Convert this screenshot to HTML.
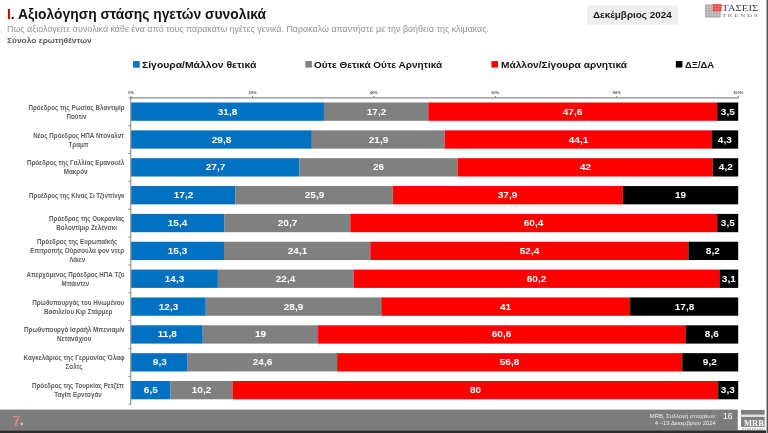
<!DOCTYPE html>
<html lang="el"><head><meta charset="utf-8"><title>Αξιολόγηση στάσης ηγετών συνολικά</title>
<style>
html,body{margin:0;padding:0;background:#fff;font-family:"Liberation Sans",sans-serif}
body{width:768px;height:433px;position:relative;overflow:hidden;font-family:"Liberation Sans",sans-serif}
.t{position:absolute;white-space:nowrap;line-height:1;transform-origin:0 0;display:inline-block}
.r{position:absolute;white-space:nowrap;line-height:1;transform-origin:100% 0;display:inline-block;text-align:right}
.b{position:absolute}
.v{position:absolute;color:#fff;font-weight:700;text-align:center;white-space:nowrap;line-height:1}
.v span{display:inline-block}
.l{position:absolute;white-space:nowrap;text-align:center;font-weight:700;color:#5c5c5c;transform-origin:100% 50%}
.k{position:absolute;font-weight:700;color:#555;line-height:1;text-align:center;white-space:nowrap}
</style></head><body><div style="position:absolute;left:0;top:0;width:768px;height:433px;transform:translateZ(0)">
<svg class="b" style="left:705px;top:3.5px" width="18" height="14" viewBox="0 0 18 14"><rect x="0" y="0.5" width="15.7" height="13" fill="#a8a8a8"/><g stroke="#d8d8d8" stroke-width="0.5"><path d="M0 3.1h15.7M0 5.7h15.7M0 8.3h15.7M0 10.9h15.7M2.6 .5v13M5.2 .5v13M7.8 .5v13M10.4 .5v13M13 .5v13"/></g><rect x="7.8" y="0.2" width="8.7" height="7" fill="#ee3b3b"/><g stroke="#f7a0a0" stroke-width="0.5"><path d="M7.8 2.5h8.7M7.8 4.9h8.7M10.7 .2v7M13.6 .2v7"/></g></svg>
<svg class="b" style="left:0;top:0" width="768" height="433" viewBox="0 0 768 433"><rect x="0" y="409.6" width="737.8" height="20.7" fill="#7d7d7d"/><rect x="0" y="430.3" width="768" height="2.7" fill="#2e2e2e"/><rect x="766" y="0" width="1" height="433" fill="#b4b4b4"/><rect x="767" y="0" width="1" height="433" fill="#505256"/><rect x="741" y="409.9" width="23.6" height="4.9" fill="#808080"/><rect x="741" y="414.8" width="23.6" height="2.1" fill="#e6e6e6"/><rect x="741" y="416.9" width="23.6" height="10.0" fill="#808080"/><rect x="742.2" y="428.3" width="1.5" height="1.4" fill="#a0a0a0"/><rect x="744.6500000000001" y="428.3" width="1.5" height="1.4" fill="#a0a0a0"/><rect x="747.1" y="428.3" width="1.5" height="1.4" fill="#a0a0a0"/><rect x="749.5500000000001" y="428.3" width="1.5" height="1.4" fill="#a0a0a0"/><rect x="752.0" y="428.3" width="1.5" height="1.4" fill="#a0a0a0"/><rect x="754.45" y="428.3" width="1.5" height="1.4" fill="#a0a0a0"/><rect x="756.9000000000001" y="428.3" width="1.5" height="1.4" fill="#a0a0a0"/><rect x="759.35" y="428.3" width="1.5" height="1.4" fill="#a0a0a0"/><rect x="761.8000000000001" y="428.3" width="1.5" height="1.4" fill="#a0a0a0"/><rect x="587.3" y="5.3" width="90.6" height="19.3" fill="#efefef"/><rect x="133.1" y="61.1" width="6.6" height="6.5" fill="#0070c0"/><rect x="305.3" y="61.1" width="6.6" height="6.5" fill="#808080"/><rect x="491.4" y="61.1" width="6.6" height="6.5" fill="#ff0000"/><rect x="675.8" y="61.1" width="6.6" height="6.5" fill="#000000"/><rect x="131.10" y="102.50" width="192.86" height="18.3" fill="#0070c0"/><rect x="323.96" y="102.50" width="104.32" height="18.3" fill="#808080"/><rect x="428.28" y="102.50" width="288.69" height="18.3" fill="#ff0000"/><rect x="716.97" y="102.50" width="21.23" height="18.3" fill="#000000"/><rect x="131.10" y="130.35" width="180.74" height="18.3" fill="#0070c0"/><rect x="311.84" y="130.35" width="132.82" height="18.3" fill="#808080"/><rect x="444.66" y="130.35" width="267.46" height="18.3" fill="#ff0000"/><rect x="712.12" y="130.35" width="26.08" height="18.3" fill="#000000"/><rect x="131.10" y="158.20" width="168.34" height="18.3" fill="#0070c0"/><rect x="299.44" y="158.20" width="158.00" height="18.3" fill="#808080"/><rect x="457.44" y="158.20" width="255.24" height="18.3" fill="#ff0000"/><rect x="712.68" y="158.20" width="25.52" height="18.3" fill="#000000"/><rect x="131.10" y="186.05" width="104.42" height="18.3" fill="#0070c0"/><rect x="235.52" y="186.05" width="157.24" height="18.3" fill="#808080"/><rect x="392.76" y="186.05" width="230.09" height="18.3" fill="#ff0000"/><rect x="622.85" y="186.05" width="115.35" height="18.3" fill="#000000"/><rect x="131.10" y="213.90" width="93.49" height="18.3" fill="#0070c0"/><rect x="224.59" y="213.90" width="125.67" height="18.3" fill="#808080"/><rect x="350.26" y="213.90" width="366.69" height="18.3" fill="#ff0000"/><rect x="716.95" y="213.90" width="21.25" height="18.3" fill="#000000"/><rect x="131.10" y="241.75" width="92.89" height="18.3" fill="#0070c0"/><rect x="223.99" y="241.75" width="146.31" height="18.3" fill="#808080"/><rect x="370.30" y="241.75" width="318.12" height="18.3" fill="#ff0000"/><rect x="688.42" y="241.75" width="49.78" height="18.3" fill="#000000"/><rect x="131.10" y="269.60" width="86.82" height="18.3" fill="#0070c0"/><rect x="217.92" y="269.60" width="135.99" height="18.3" fill="#808080"/><rect x="353.91" y="269.60" width="365.47" height="18.3" fill="#ff0000"/><rect x="719.38" y="269.60" width="18.82" height="18.3" fill="#000000"/><rect x="131.10" y="297.45" width="74.67" height="18.3" fill="#0070c0"/><rect x="205.77" y="297.45" width="175.45" height="18.3" fill="#808080"/><rect x="381.23" y="297.45" width="248.91" height="18.3" fill="#ff0000"/><rect x="630.14" y="297.45" width="108.06" height="18.3" fill="#000000"/><rect x="131.10" y="325.30" width="71.64" height="18.3" fill="#0070c0"/><rect x="202.74" y="325.30" width="115.35" height="18.3" fill="#808080"/><rect x="318.09" y="325.30" width="367.90" height="18.3" fill="#ff0000"/><rect x="685.99" y="325.30" width="52.21" height="18.3" fill="#000000"/><rect x="131.10" y="353.15" width="56.52" height="18.3" fill="#0070c0"/><rect x="187.62" y="353.15" width="149.50" height="18.3" fill="#808080"/><rect x="337.11" y="353.15" width="345.18" height="18.3" fill="#ff0000"/><rect x="682.29" y="353.15" width="55.91" height="18.3" fill="#000000"/><rect x="131.10" y="381.00" width="39.46" height="18.3" fill="#0070c0"/><rect x="170.56" y="381.00" width="61.92" height="18.3" fill="#808080"/><rect x="232.49" y="381.00" width="485.68" height="18.3" fill="#ff0000"/><rect x="718.17" y="381.00" width="20.03" height="18.3" fill="#000000"/><g stroke="#8a8a8a" stroke-width="1.1" fill="none"><path d="M130.20 97.85H738.50M130.75 97.35V404.70"/><path d="M128.50 97.85h2.2M128.50 125.70h2.2M128.50 153.55h2.2M128.50 181.40h2.2M128.50 209.25h2.2M128.50 237.10h2.2M128.50 264.95h2.2M128.50 292.80h2.2M128.50 320.65h2.2M128.50 348.50h2.2M128.50 376.35h2.2M128.50 404.20h2.2M131.10 95.85v2M252.52 95.85v2M373.94 95.85v2M495.36 95.85v2M616.78 95.85v2M738.20 95.85v2" stroke="#7a7a7a" stroke-width="0.9"/></g></svg>
<div class="k" style="left:121.10px;top:91.4px;width:20px;font-size:3.9px">0%</div>
<div class="k" style="left:242.52px;top:91.4px;width:20px;font-size:3.9px">20%</div>
<div class="k" style="left:363.94px;top:91.4px;width:20px;font-size:3.9px">40%</div>
<div class="k" style="left:485.36px;top:91.4px;width:20px;font-size:3.9px">60%</div>
<div class="k" style="left:606.78px;top:91.4px;width:20px;font-size:3.9px">80%</div>
<div class="k" style="left:728.20px;top:91.4px;width:20px;font-size:3.9px">100%</div>
<div class="v" style="left:131.10px;top:106.68px;width:192.86px;font-size:9.8px"><span style="transform:scaleX(1.02)">31,8</span></div>
<div class="v" style="left:323.96px;top:106.68px;width:104.32px;font-size:9.8px"><span style="transform:scaleX(1.02)">17,2</span></div>
<div class="v" style="left:428.28px;top:106.68px;width:288.69px;font-size:9.8px"><span style="transform:scaleX(1.02)">47,6</span></div>
<div class="v" style="left:716.97px;top:106.68px;width:21.23px;font-size:9.8px"><span style="transform:scaleX(1.02)">3,5</span></div>
<div class="l" style="right:643.7px;top:102.65px;font-size:6.5px;line-height:9px;transform:scaleX(0.9556)">Πρόεδρος της Ρωσίας Βλαντιμίρ<br>Πούτιν</div>
<div class="v" style="left:131.10px;top:134.53px;width:180.74px;font-size:9.8px"><span style="transform:scaleX(1.02)">29,8</span></div>
<div class="v" style="left:311.84px;top:134.53px;width:132.82px;font-size:9.8px"><span style="transform:scaleX(1.02)">21,9</span></div>
<div class="v" style="left:444.66px;top:134.53px;width:267.46px;font-size:9.8px"><span style="transform:scaleX(1.02)">44,1</span></div>
<div class="v" style="left:712.12px;top:134.53px;width:26.08px;font-size:9.8px"><span style="transform:scaleX(1.02)">4,3</span></div>
<div class="l" style="right:643.7px;top:130.50px;font-size:6.5px;line-height:9px;transform:scaleX(0.9549)">Νέος Πρόεδρος ΗΠΑ Ντόναλντ<br>Τραμπ</div>
<div class="v" style="left:131.10px;top:162.38px;width:168.34px;font-size:9.8px"><span style="transform:scaleX(1.02)">27,7</span></div>
<div class="v" style="left:299.44px;top:162.38px;width:158.00px;font-size:9.8px"><span style="transform:scaleX(1.02)">26</span></div>
<div class="v" style="left:457.44px;top:162.38px;width:255.24px;font-size:9.8px"><span style="transform:scaleX(1.02)">42</span></div>
<div class="v" style="left:712.68px;top:162.38px;width:25.52px;font-size:9.8px"><span style="transform:scaleX(1.02)">4,2</span></div>
<div class="l" style="right:643.7px;top:158.35px;font-size:6.5px;line-height:9px;transform:scaleX(0.9615)">Πρόεδρος της Γαλλίας Εμανουέλ<br>Μακρόν</div>
<div class="v" style="left:131.10px;top:190.23px;width:104.42px;font-size:9.8px"><span style="transform:scaleX(1.02)">17,2</span></div>
<div class="v" style="left:235.52px;top:190.23px;width:157.24px;font-size:9.8px"><span style="transform:scaleX(1.02)">25,9</span></div>
<div class="v" style="left:392.76px;top:190.23px;width:230.09px;font-size:9.8px"><span style="transform:scaleX(1.02)">37,9</span></div>
<div class="v" style="left:622.85px;top:190.23px;width:115.35px;font-size:9.8px"><span style="transform:scaleX(1.02)">19</span></div>
<div class="l" style="right:643.7px;top:190.70px;font-size:6.5px;line-height:9px;transform:scaleX(0.9410)">Προέδρος της Κίνας Σι Τζινπίνγκ</div>
<div class="v" style="left:131.10px;top:218.08px;width:93.49px;font-size:9.8px"><span style="transform:scaleX(1.02)">15,4</span></div>
<div class="v" style="left:224.59px;top:218.08px;width:125.67px;font-size:9.8px"><span style="transform:scaleX(1.02)">20,7</span></div>
<div class="v" style="left:350.26px;top:218.08px;width:366.69px;font-size:9.8px"><span style="transform:scaleX(1.02)">60,4</span></div>
<div class="v" style="left:716.95px;top:218.08px;width:21.25px;font-size:9.8px"><span style="transform:scaleX(1.02)">3,5</span></div>
<div class="l" style="right:643.7px;top:214.05px;font-size:6.5px;line-height:9px;transform:scaleX(0.9612)">Πρόεδρος της Ουκρανίας<br>Βολοντίμιρ Ζελένσκι</div>
<div class="v" style="left:131.10px;top:245.93px;width:92.89px;font-size:9.8px"><span style="transform:scaleX(1.02)">15,3</span></div>
<div class="v" style="left:223.99px;top:245.93px;width:146.31px;font-size:9.8px"><span style="transform:scaleX(1.02)">24,1</span></div>
<div class="v" style="left:370.30px;top:245.93px;width:318.12px;font-size:9.8px"><span style="transform:scaleX(1.02)">52,4</span></div>
<div class="v" style="left:688.42px;top:245.93px;width:49.78px;font-size:9.8px"><span style="transform:scaleX(1.02)">8,2</span></div>
<div class="l" style="right:643.7px;top:237.40px;font-size:6.5px;line-height:9px;transform:scaleX(0.9558)">Πρόεδρος της Ευρωπαϊκής<br>Επιτροπής Ούρσουλα φον ντερ<br>Λάιεν</div>
<div class="v" style="left:131.10px;top:273.78px;width:86.82px;font-size:9.8px"><span style="transform:scaleX(1.02)">14,3</span></div>
<div class="v" style="left:217.92px;top:273.78px;width:135.99px;font-size:9.8px"><span style="transform:scaleX(1.02)">22,4</span></div>
<div class="v" style="left:353.91px;top:273.78px;width:365.47px;font-size:9.8px"><span style="transform:scaleX(1.02)">60,2</span></div>
<div class="v" style="left:719.38px;top:273.78px;width:18.82px;font-size:9.8px"><span style="transform:scaleX(1.02)">3,1</span></div>
<div class="l" style="right:643.7px;top:269.75px;font-size:6.5px;line-height:9px;transform:scaleX(0.9474)">Απερχόμενος Πρόεδρος ΗΠΑ Τζο<br>Μπάιντεν</div>
<div class="v" style="left:131.10px;top:301.63px;width:74.67px;font-size:9.8px"><span style="transform:scaleX(1.02)">12,3</span></div>
<div class="v" style="left:205.77px;top:301.63px;width:175.45px;font-size:9.8px"><span style="transform:scaleX(1.02)">28,9</span></div>
<div class="v" style="left:381.23px;top:301.63px;width:248.91px;font-size:9.8px"><span style="transform:scaleX(1.02)">41</span></div>
<div class="v" style="left:630.14px;top:301.63px;width:108.06px;font-size:9.8px"><span style="transform:scaleX(1.02)">17,8</span></div>
<div class="l" style="right:643.7px;top:297.60px;font-size:6.5px;line-height:9px;transform:scaleX(0.9664)">Πρωθυπουργός του Ηνωμένου<br>Βασιλείου Κιρ Στάρμερ</div>
<div class="v" style="left:131.10px;top:329.48px;width:71.64px;font-size:9.8px"><span style="transform:scaleX(1.02)">11,8</span></div>
<div class="v" style="left:202.74px;top:329.48px;width:115.35px;font-size:9.8px"><span style="transform:scaleX(1.02)">19</span></div>
<div class="v" style="left:318.09px;top:329.48px;width:367.90px;font-size:9.8px"><span style="transform:scaleX(1.02)">60,6</span></div>
<div class="v" style="left:685.99px;top:329.48px;width:52.21px;font-size:9.8px"><span style="transform:scaleX(1.02)">8,6</span></div>
<div class="l" style="right:643.7px;top:325.45px;font-size:6.5px;line-height:9px;transform:scaleX(0.9708)">Πρωθυπουργό Ισραήλ Μπενιαμίν<br>Νετανάχιου</div>
<div class="v" style="left:131.10px;top:357.33px;width:56.52px;font-size:9.8px"><span style="transform:scaleX(1.02)">9,3</span></div>
<div class="v" style="left:187.62px;top:357.33px;width:149.50px;font-size:9.8px"><span style="transform:scaleX(1.02)">24,6</span></div>
<div class="v" style="left:337.11px;top:357.33px;width:345.18px;font-size:9.8px"><span style="transform:scaleX(1.02)">56,8</span></div>
<div class="v" style="left:682.29px;top:357.33px;width:55.91px;font-size:9.8px"><span style="transform:scaleX(1.02)">9,2</span></div>
<div class="l" style="right:643.7px;top:353.30px;font-size:6.5px;line-height:9px;transform:scaleX(0.9667)">Καγκελάριος της Γερμανίας Όλαφ<br>Σολτς</div>
<div class="v" style="left:131.10px;top:385.18px;width:39.46px;font-size:9.8px"><span style="transform:scaleX(1.02)">6,5</span></div>
<div class="v" style="left:170.56px;top:385.18px;width:61.92px;font-size:9.8px"><span style="transform:scaleX(1.02)">10,2</span></div>
<div class="v" style="left:232.49px;top:385.18px;width:485.68px;font-size:9.8px"><span style="transform:scaleX(1.02)">80</span></div>
<div class="v" style="left:718.17px;top:385.18px;width:20.03px;font-size:9.8px"><span style="transform:scaleX(1.02)">3,3</span></div>
<div class="l" style="right:643.7px;top:381.15px;font-size:6.5px;line-height:9px;transform:scaleX(0.9585)">Πρόεδρος της Τουρκίας Ρετζέπ<br>Ταγίπ Ερντογάν</div>
<div class="t" style="left:7.0px;top:7.33px;font-size:14.5px;font-weight:700;color:#111;font-family:'Liberation Sans',sans-serif;transform:scaleX(0.9551)"><span style="color:#c00000">Ι</span>. Αξιολόγηση στάσης ηγετών συνολικά</div>
<div class="t" style="left:7.0px;top:25.19px;font-size:8.4px;font-weight:400;color:#929292;font-family:'Liberation Sans',sans-serif;transform:scaleX(1.0615)">Πως αξιολογείτε συνολικά κάθε ένα από τους παρακάτω ηγέτες γενικά. Παρακαλώ απαντήστε με την βοήθεια της κλίμακας.</div>
<div class="t" style="left:7.0px;top:37.04px;font-size:8.1px;font-weight:700;color:#5a5a5a;font-family:'Liberation Sans',sans-serif;transform:scaleX(1.0343)">Σύνολο ερωτηθέντων</div>
<div class="t" style="left:592.9px;top:10.29px;font-size:9.7px;font-weight:700;color:#1a1a1a;font-family:'Liberation Sans',sans-serif;transform:scaleX(1.0225)">Δεκέμβριος 2024</div>
<div class="t" style="left:142.2px;top:60.02px;font-size:9.9px;font-weight:700;color:#111;font-family:'Liberation Sans',sans-serif;transform:scaleX(1.0513)">Σίγουρα/Μάλλον θετικά</div>
<div class="t" style="left:314.3px;top:60.02px;font-size:9.9px;font-weight:700;color:#111;font-family:'Liberation Sans',sans-serif;transform:scaleX(1.0099)">Ούτε Θετικά Ούτε Αρνητικά</div>
<div class="t" style="left:500.9px;top:60.02px;font-size:9.9px;font-weight:700;color:#111;font-family:'Liberation Sans',sans-serif;transform:scaleX(1.0294)">Μάλλον/Σίγουρα αρνητικά</div>
<div class="t" style="left:685.2px;top:60.02px;font-size:9.9px;font-weight:700;color:#111;font-family:'Liberation Sans',sans-serif;transform:scaleX(0.9593)">ΔΞ/ΔΑ</div>
<div class="t" style="left:722.3px;top:3.95px;font-size:8.8px;font-weight:400;color:#383838;font-family:'Liberation Serif',serif;transform:scaleX(1.2273)">ΤΑΣΕΙΣ</div>
<div class="t" style="left:722.3px;top:15.37px;font-size:3.7px;font-weight:400;color:#666;font-family:'Liberation Serif',serif;transform:scaleX(1.8898)">T R E N D S</div>
<div class="t" style="left:13.3px;top:414.06px;font-size:14.7px;font-weight:700;color:#f08080;font-family:'Liberation Sans',sans-serif;transform:scaleX(0.8561)"><span style="color:#f27f7f;font-weight:400;text-shadow:0 0 1px rgba(255,190,190,.7)">7</span><span style="color:#e4e4e4;position:relative;top:-0.6px">.</span></div>
<div class="t" style="left:722.6px;top:412.48px;font-size:9.0px;font-weight:400;color:#fff;font-family:'Liberation Sans',sans-serif;transform:scaleX(0.9385)">16</div>
<div class="t" style="left:743.5px;top:420.33px;font-size:8.0px;font-weight:700;color:#fff;font-family:'Liberation Serif',serif;transform:scaleX(1.0711)">MRB</div>
<div class="r" style="right:52.0px;top:413.66px;font-size:5.6px;font-weight:400;color:#eee;transform:scaleX(1.0509)">MRB, Συλλογή στοιχείων:</div>
<div class="r" style="right:52.0px;top:421.36px;font-size:5.6px;font-weight:400;color:#eee;transform:scaleX(1.0551)">4 –13 Δεκεμβρίου 2024</div>
</div></body></html>
